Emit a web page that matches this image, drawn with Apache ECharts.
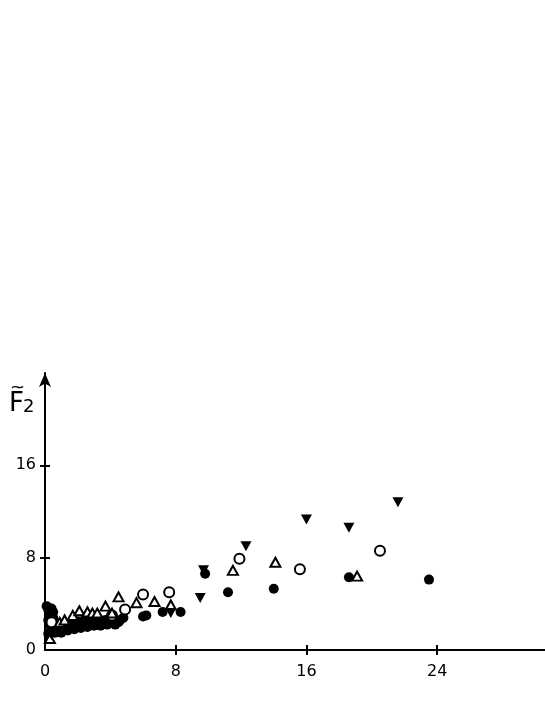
<!DOCTYPE html>
<html><head><meta charset="utf-8">
<script src="https://cdn.jsdelivr.net/npm/echarts@6/dist/echarts.min.js"></script>
<style>html,body{margin:0;padding:0;background:#fff}#c{width:545px;height:705px}</style>
</head><body><div id="c"></div>
<script>
const xTicks = [0, 8, 16, 24];
const yTicks = [0, 8, 16];
const filledCircles = [
[0.3,-0.4],[0.1,3.8],[0.4,3.6],[0.2,3.5],[0.3,3.1],[0.2,2.6],[0.3,2.2],[0.4,1.8],[0.2,1.4],[0.5,2.8],[0.5,3.3],[0.6,2.0],[0.7,1.6],[0.8,2.1],[1.0,1.8],[1.1,2.2],[1.3,1.9],[1.4,2.3],[1.6,2.0],[1.7,2.4],[1.9,2.1],[2.0,2.5],[2.2,2.2],[2.4,2.6],[2.5,2.2],[2.7,2.4],[2.9,2.6],[3.1,2.3],[3.3,2.5],[3.5,2.3],[3.7,2.6],[3.9,2.3],[4.2,2.5],[4.5,2.4],[4.8,2.8],
[0.6,1.5],[1.0,1.5],[1.4,1.7],[1.8,1.8],[2.2,1.9],[2.6,2.0],[3.0,2.1],[3.4,2.1],[3.8,2.2],[4.3,2.2],[4.6,2.6],
[6.0,2.9],[6.2,3.0],[7.2,3.3],[8.3,3.3],[9.8,6.6],[11.2,5.0],[14.0,5.3],[18.6,6.3],[23.5,6.1]
];
const openCircles = [
[0.4,2.4],[4.1,3.0],[4.9,3.5],[6.0,4.8],[7.6,5.0],[11.9,7.9],[15.6,7.0],[20.5,8.6]
];
const openTriangles = [
[0.3,1.0],[0.9,2.4],[1.2,2.6],[1.7,3.0],[2.1,3.4],[2.6,3.3],[2.9,3.2],[3.2,3.2],[3.7,3.8],[4.1,3.2],[4.5,4.6],[5.6,4.1],[6.7,4.2],[7.7,3.9],[11.5,6.9],[14.1,7.6],[19.1,6.4]
];
const filledDownTriangles = [
[0.4,1.3],[0.8,1.5],[1.5,1.8],[2.6,2.1],[3.5,2.2],[7.7,3.2],[9.5,4.5],[9.7,6.9],[12.3,9.0],[16.0,11.3],[18.6,10.6],[21.6,12.8]
];

const chart = echarts.init(document.getElementById('c'));
const font = 'DejaVu Sans';
const gridBox = {left:45, right:0, top:373, bottom:55};
const tickStyle = {color:'#000', width:2};
chart.setOption({
  animation:false,
  grid:[Object.assign({}, gridBox), Object.assign({}, gridBox)],
  xAxis:[
    {gridIndex:0, min:0, max:30.6, interval:8, splitLine:{show:false},
      axisLine:{show:true, onZero:false, lineStyle:{color:'#000', width:2}},
      axisTick:{show:true, length:5, lineStyle:tickStyle, customValues:xTicks.slice(1)},
      axisLabel:{show:true, color:'#000', fontSize:16, fontFamily:font, margin:14, customValues:xTicks}},
    {gridIndex:1, min:0, max:30.6, interval:8, splitLine:{show:false},
      axisLine:{show:false},
      axisTick:{show:true, inside:true, length:5, lineStyle:tickStyle, customValues:xTicks.slice(1)},
      axisLabel:{show:false}}
  ],
  yAxis:[
    {gridIndex:0, min:0, max:24, interval:8, splitLine:{show:false},
      axisLine:{show:true, onZero:false, symbol:['none','arrow'], symbolSize:[9,14], lineStyle:{color:'#000', width:2}},
      axisTick:{show:true, length:5, lineStyle:tickStyle, customValues:yTicks.slice(1)},
      axisLabel:{show:true, color:'#000', fontSize:16, fontFamily:font, margin:9, customValues:yTicks}},
    {gridIndex:1, min:0, max:24, interval:8, splitLine:{show:false},
      axisLine:{show:false},
      axisTick:{show:true, inside:true, length:5, lineStyle:tickStyle, customValues:yTicks.slice(1)},
      axisLabel:{show:false}}
  ],
  graphic:[
    {type:'text', left:9, top:391, style:{text:'F', fontSize:26, fontFamily:font, fill:'#000'}},
    {type:'text', left:10, top:379, style:{text:'~', fontSize:18, fontFamily:font, fill:'#000'}},
    {type:'text', left:23, top:398, style:{text:'2', fontSize:18, fontFamily:font, fill:'#000'}}
  ],
  series:[
    {type:'scatter', data:filledCircles, symbol:'circle', symbolSize:10,
      itemStyle:{color:'#000', opacity:1}},
    {type:'scatter', data:openCircles, symbol:'circle', symbolSize:10,
      itemStyle:{color:'#fff', borderColor:'#000', borderWidth:2, opacity:1}},
    {type:'scatter', data:openTriangles, symbol:'triangle', symbolSize:[10,9],
      itemStyle:{color:'#fff', borderColor:'#000', borderWidth:2, opacity:1}},
    {type:'scatter', data:filledDownTriangles, symbol:'triangle', symbolSize:[11,10], symbolRotate:180,
      itemStyle:{color:'#000', opacity:1}}
  ]
});
</script></body></html>
